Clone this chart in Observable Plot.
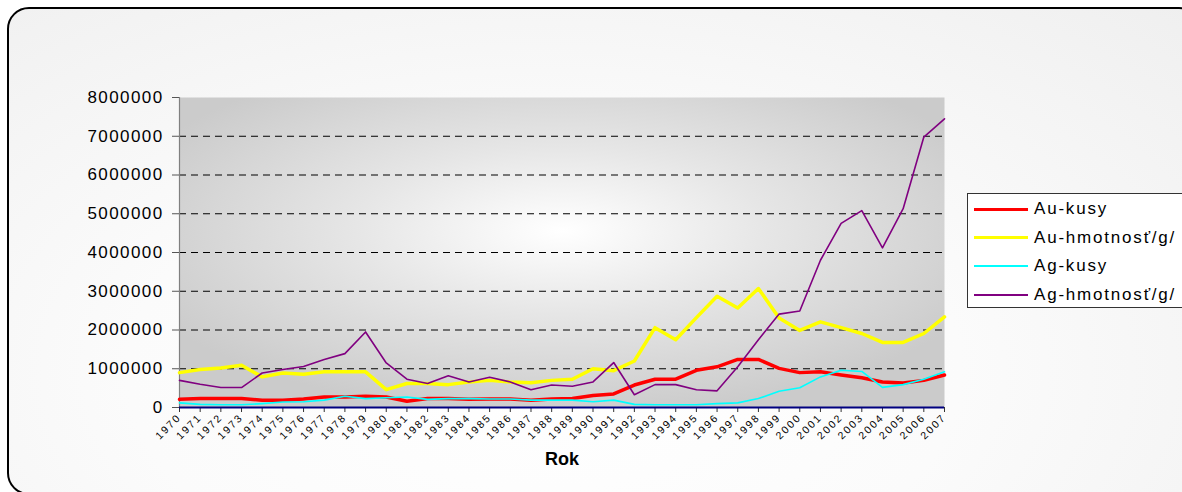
<!DOCTYPE html>
<html>
<head>
<meta charset="utf-8">
<script src="https://cdn.jsdelivr.net/npm/d3@7"></script>
<script src="https://cdn.jsdelivr.net/npm/@observablehq/plot@0.6"></script>
<style>
  html, body { margin: 0; padding: 0; background: #fff; }
  #wrap { position: relative; width: 1182px; height: 492px; overflow: hidden; font-family: "Liberation Sans", Arial, sans-serif; }
  #box { position: absolute; left: 7px; top: 7px; width: 1190px; height: 484px; border: 2px solid #000; border-radius: 22px;
         background: radial-gradient(ellipse at 45% 75%, #ffffff 0%, #fbfbfb 45%, #efefef 100%); }
  #chart { position: absolute; left: 0; top: 0; }
  #legend { position: absolute; left: 967px; top: 193px; width: 230px; height: 113px; border: 1px solid #333; background: #fff; }
  .item { position: absolute; left: 6px; height: 20px; display: flex; align-items: center; }
  .swatch { width: 54px; margin-right: 6px; }
  .lbl { font-size: 17px; letter-spacing: 1.8px; color: #000; white-space: nowrap; }
</style>
</head>
<body>
<div id="wrap">
  <div id="box"></div>
  <div id="chart"></div>
  <div id="legend"></div>
</div>
<script>
const years = [1970,1971,1972,1973,1974,1975,1976,1977,1978,1979,1980,1981,1982,1983,1984,1985,1986,1987,1988,1989,1990,1991,1992,1993,1994,1995,1996,1997,1998,1999,2000,2001,2002,2003,2004,2005,2006,2007];

const seriesNames = ["Au-kusy", "Au-hmotnosť/g/", "Ag-kusy", "Ag-hmotnosť/g/"];

const auKusy = [210000,230000,230000,230000,190000,190000,220000,270000,270000,290000,270000,160000,230000,230000,
  210000,220000,220000,190000,220000,230000,310000,350000,580000,730000,730000,960000,1050000,1240000,1240000,1010000,900000,920000,840000,770000,660000,630000,700000,840000];

const auHmotnost = [900000,980000,1020000,1090000,790000,890000,860000,920000,920000,920000,460000,620000,620000,590000,
  660000,700000,660000,640000,700000,730000,1000000,950000,1200000,2060000,1750000,2320000,2870000,2570000,3070000,2310000,1990000,2210000,2060000,1910000,1680000,1680000,1910000,2340000];

const agKusy = [120000,80000,70000,70000,100000,140000,150000,190000,290000,230000,250000,270000,210000,230000,
  230000,220000,220000,190000,190000,190000,150000,190000,80000,70000,70000,70000,100000,120000,230000,420000,510000,790000,960000,930000,520000,590000,730000,920000];

const agHmotnost = [700000,600000,515000,515000,890000,980000,1060000,1240000,1390000,1950000,1150000,730000,620000,820000,
  660000,780000,660000,460000,580000,550000,660000,1160000,330000,590000,590000,460000,430000,1050000,1750000,2410000,2490000,3800000,4750000,5080000,4120000,5130000,6980000,7450000];

const yTicks = [0,1000000,2000000,3000000,4000000,5000000,6000000,7000000,8000000];
const gridTicks = [1000000,2000000,3000000,4000000,5000000,6000000,7000000];

const colors = ["#ff0000", "#ffff00", "#00ffff", "#800080"];
const widths = [3.5, 3.5, 1.6, 1.6];
const valueLists = [auKusy, auHmotnost, agKusy, agHmotnost];

const series = seriesNames.map((name, i) => ({
  name, color: colors[i], width: widths[i],
  data: years.map((year, j) => ({year, value: valueLists[i][j]}))
}));

const plot = Plot.plot({
  width: 1182,
  height: 492,
  marginLeft: 179,
  marginRight: 238,
  marginTop: 97,
  marginBottom: 85,
  style: {fontFamily: "'Liberation Sans', Arial, sans-serif", background: "transparent", color: "#000", overflow: "visible"},
  x: {domain: [1970, 2007]},
  y: {domain: [0, 8000000]},
  marks: [
    Plot.frame({fill: "url(#plotbg)", stroke: "none"}),
    Plot.gridY(gridTicks, {stroke: "#000", strokeOpacity: 1, strokeDasharray: "7,5"}),
    Plot.ruleX([years[0]], {stroke: "#808080", strokeWidth: 1.2}),
    Plot.axisY(yTicks, {tickSize: 7, tickPadding: 9, fontSize: 17, tickFormat: d => String(d), label: null, stroke: "#555", fill: "#000"}),
    Plot.axisX(years, {tickRotate: -45, fontSize: 10.5, tickSize: 5, tickPadding: 3, tickFormat: d => String(d), label: null, stroke: "#333", fill: "#000"}),
    ...series.map(s => Plot.line(s.data, {x: "year", y: "value", stroke: s.color, strokeWidth: s.width, strokeLinejoin: "round"})),
    Plot.ruleY([0], {stroke: "#000080", strokeWidth: 2.2}),
    Plot.text(["Rok"], {text: d => d, frameAnchor: "bottom", dy: 57, fontWeight: "bold", fontSize: 18})
  ]
});

const svg = d3.select(plot);
const defs = svg.insert("defs", ":first-child");
const grad = defs.append("radialGradient").attr("id", "plotbg").attr("cx", 0.5).attr("cy", 0.43).attr("r", 0.6);
grad.append("stop").attr("offset", "0%").attr("stop-color", "#ffffff");
grad.append("stop").attr("offset", "45%").attr("stop-color", "#e6e6e6");
grad.append("stop").attr("offset", "100%").attr("stop-color", "#cbcbcb");
svg.selectAll('[aria-label="y-axis tick label"] text').attr("letter-spacing", "1.4px");
svg.selectAll('[aria-label="x-axis tick label"] text').attr("letter-spacing", "2px");

document.getElementById("chart").appendChild(plot);

const legend = document.getElementById("legend");
series.forEach((s, i) => {
  const item = document.createElement("div");
  item.className = "item";
  item.style.top = (5 + i * 28.5) + "px";
  const sw = document.createElement("div");
  sw.className = "swatch";
  sw.style.height = (s.width > 2 ? 3 : 2) + "px";
  sw.style.background = s.color;
  const lbl = document.createElement("span");
  lbl.className = "lbl";
  lbl.textContent = s.name;
  item.appendChild(sw);
  item.appendChild(lbl);
  legend.appendChild(item);
});
</script>
</body>
</html>
